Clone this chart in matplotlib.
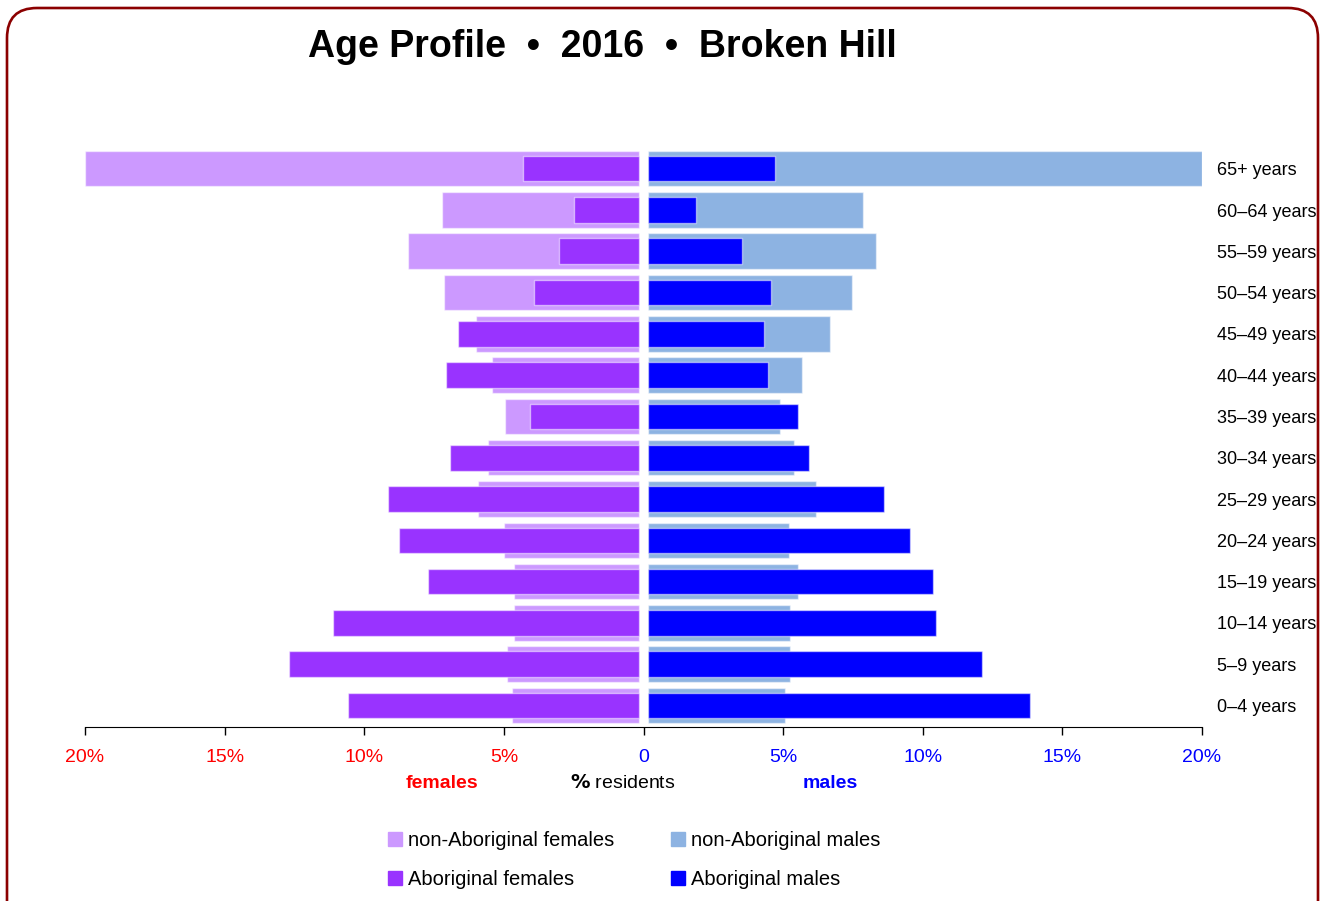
import matplotlib
matplotlib.use('Agg')
import matplotlib.pyplot as plt
from matplotlib.patches import FancyBboxPatch, Patch
from matplotlib.transforms import IdentityTransform
import numpy as np

# data (% of residents), youngest first
ages = ['0–4 years', '5–9 years', '10–14 years', '15–19 years', '20–24 years',
        '25–29 years', '30–34 years', '35–39 years', '40–44 years', '45–49 years',
        '50–54 years', '55–59 years', '60–64 years', '65+ years']
nonabo_f = [4.71, 4.89, 4.64, 4.64, 5.00, 5.93, 5.57, 4.96, 5.43, 6.00, 7.14, 8.43, 7.22, 20.0]
abo_f = [10.58, 12.69, 11.12, 7.72, 8.76, 9.15, 6.93, 4.06, 7.07, 6.64, 3.92, 3.03, 2.49, 4.32]
nonabo_m = [5.07, 5.25, 5.25, 5.53, 5.21, 6.18, 5.39, 4.88, 5.69, 6.68, 7.47, 8.34, 7.87, 20.0]
abo_m = [13.84, 12.12, 10.48, 10.37, 9.54, 8.61, 5.93, 5.54, 4.45, 4.33, 4.58, 3.51, 1.88, 4.72]

tick_vals = [-20, -15, -10, -5, 0, 5, 10, 15, 20]
tick_labels = ['20%', '15%', '10%', '5%', '0', '5%', '10%', '15%', '20%']

c_nf = '#CC99FF'
c_af = '#9933FF'
c_nm = '#8DB3E2'
c_am = '#0000FF'

plt.rcParams['font.family'] = ['Liberation Sans', 'DejaVu Sans']

W, H = 1324, 901
fig = plt.figure(figsize=(W / 100, H / 100), dpi=100)

# axes placed in pixel terms
ax = fig.add_axes([85 / W, 1 - 727 / H, (1202 - 85) / W, (727 - 148) / H])

y = np.arange(len(ages))
gap = 0.16
edge = (1, 1, 1, 0.5)

ax.barh(y, -(np.array(nonabo_f) - gap), left=-gap, height=0.86, color=c_nf, edgecolor=edge, linewidth=1)
ax.barh(y, np.array(nonabo_m) - gap, left=gap, height=0.86, color=c_nm, edgecolor=edge, linewidth=1)
ax.barh(y, -(np.array(abo_f) - gap), left=-gap, height=0.62, color=c_af, edgecolor=edge, linewidth=1)
ax.barh(y, np.array(abo_m) - gap, left=gap, height=0.62, color=c_am, edgecolor=edge, linewidth=1)

ax.set_xlim(-20, 20)
ax.set_ylim(-0.52, len(ages) - 0.5)

for s in ['top', 'left', 'right']:
    ax.spines[s].set_visible(False)
ax.set_yticks([])
ax.set_xticks(tick_vals)
ax.set_xticklabels(tick_labels, fontsize=14)
ax.tick_params(axis='x', length=6, width=1, pad=10)
for v, lab in zip(tick_vals, ax.get_xticklabels()):
    lab.set_color('#FF0000' if v < 0 else '#0000FF')

# age group labels at right
for yi, name in zip(y, ages):
    ax.text(20.55, yi - 0.05, name, fontsize=13, va='center', ha='left')

fig.text(602 / W, 1 - 47 / H, 'Age Profile  •  2016  •  Broken Hill',
         fontweight='bold', fontsize=27, ha='center', va='center')

fig.text(442 / W, 1 - 783 / H, 'females', color='#FF0000', fontweight='bold', fontsize=14, ha='center', va='center')
fig.text(623 / W, 1 - 783 / H, r'$\bf{\%}$ residents', fontsize=14, ha='center', va='center')
fig.text(830 / W, 1 - 783 / H, 'males', color='#0000FF', fontweight='bold', fontsize=14, ha='center', va='center')

handles = [Patch(color=c_nf, label='non-Aboriginal females'),
           Patch(color=c_af, label='Aboriginal females'),
           Patch(color=c_nm, label='non-Aboriginal males'),
           Patch(color=c_am, label='Aboriginal males')]
fig.legend(handles=handles, ncol=2, loc='center', bbox_to_anchor=(634 / W, 1 - 860 / H),
           frameon=False, fontsize=14.5, handlelength=0.7, handleheight=0.7,
           handletextpad=0.3, columnspacing=2.8, labelspacing=1.0)

# rounded frame, open at the bottom
border = FancyBboxPatch((7, -30), W - 13, H - 8 + 30,
                        boxstyle='round,pad=0,rounding_size=30',
                        transform=IdentityTransform(), fill=False,
                        edgecolor='#8B0000', linewidth=1.9)
fig.patches.append(border)

fig.savefig('out.png', dpi=100)
